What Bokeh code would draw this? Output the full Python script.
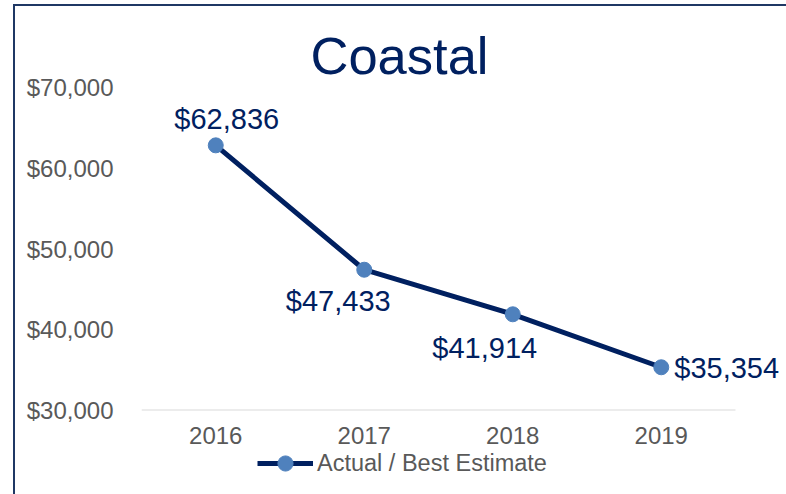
from bokeh.plotting import figure
from bokeh.layouts import column
from bokeh.models import Range1d, FixedTicker, Legend, LegendItem, ColumnDataSource, Title
from bokeh.core.properties import value
from bokeh.embed import file_html
from bokeh.resources import INLINE

# ---- data ----
title_text = "Coastal"
series_name = "Actual / Best Estimate"
years = [2016, 2017, 2018, 2019]
year_labels = ["2016", "2017", "2018", "2019"]
values = [62836, 47433, 41914, 35354]
value_labels = ["$62,836", "$47,433", "$41,914", "$35,354"]
y_ticks = [30000, 40000, 50000, 60000, 70000]
y_tick_labels = ["$30,000", "$40,000", "$50,000", "$60,000", "$70,000"]

# ---- label placement (screen px) ----
label_dx = [11, -26, -28, 13]
label_dy = [-26, 31, 34, 1]
label_align = ["center", "center", "center", "left"]

FONT = "Liberation Sans"
NAVY = "#002060"
MARKER = "#4F81BD"
GRAY = "#595959"
BORDER = "#1F3864"

W = 771
px_per_year = 148.5
frame_w = 645
x_start = years[0] - 0.5
x_end = x_start + frame_w / px_per_year

p = figure(width=W, height=443, output_backend="svg", toolbar_location=None,
           x_range=Range1d(x_start, x_end), y_range=Range1d(y_ticks[0], y_ticks[-1]),
           min_border_left=126, min_border_right=0, min_border_top=81, min_border_bottom=39)
p.outline_line_color = None
p.background_fill_color = "white"
p.border_fill_color = "white"
p.xgrid.visible = False
p.ygrid.visible = False

p.title = Title(text=title_text, align="left", offset=169, text_font_size="52.5px",
                text_color=NAVY, text_font=FONT, text_font_style="normal", standoff=5)

# baseline gridline at axis minimum
p.segment(x0=[years[0] - 0.5], y0=[y_ticks[0]], x1=[years[-1] + 0.5], y1=[y_ticks[0]],
          line_color="#D9D9D9", line_width=2)

src = ColumnDataSource(dict(x=years, y=values, lab=value_labels,
                            dx=label_dx, dy=label_dy, al=label_align))
p.line("x", "y", source=src, line_color=NAVY, line_width=5)
p.scatter("x", "y", source=src, size=15, fill_color=MARKER, line_color=MARKER)
p.text("x", "y", text="lab", source=src, x_offset="dx", y_offset="dy", text_align="al",
       text_baseline="middle", text_font=value(FONT), text_font_size="29px", text_color=NAVY)

# axes
p.yaxis.ticker = FixedTicker(ticks=y_ticks)
p.yaxis.major_label_overrides = {t: l for t, l in zip(y_ticks, y_tick_labels)}
p.xaxis.ticker = FixedTicker(ticks=years)
p.xaxis.major_label_overrides = {t: l for t, l in zip(years, year_labels)}
for ax in (p.xaxis[0], p.yaxis[0]):
    ax.axis_line_color = None
    ax.major_tick_line_color = None
    ax.minor_tick_line_color = None
    ax.major_label_text_font = FONT
    ax.major_label_text_font_size = "24px"
    ax.major_label_text_color = GRAY
p.yaxis.major_label_standoff = 22
p.xaxis.major_label_standoff = 10

# legend strip below the chart
lg = figure(width=W, height=45, output_backend="svg", toolbar_location=None,
            x_range=Range1d(0, 1), y_range=Range1d(0, 1), min_border=0)
lg.outline_line_color = None
lg.axis.visible = False
lg.grid.visible = False
lr = lg.line("x", "y", source=src, line_color=NAVY, line_width=5)
ls = lg.scatter("x", "y", source=src, size=15, fill_color=MARKER, line_color=MARKER)
legend = Legend(items=[LegendItem(label=series_name, renderers=[lr, ls])],
                location=(116, 12), orientation="horizontal", border_line_color=None,
                background_fill_alpha=0, label_text_font=FONT, label_text_font_size="23.5px",
                label_text_color=GRAY, glyph_width=56, glyph_height=38, padding=0, margin=0,
                label_standoff=4)
lg.add_layout(legend, "center")

layout = column(p, lg, spacing=0)
layout.styles = {"border-left": "2px solid " + BORDER, "border-top": "2px solid " + BORDER,
                 "margin-left": "13px", "margin-top": "4px"}

open("out.html", "w").write(file_html(layout, INLINE))
